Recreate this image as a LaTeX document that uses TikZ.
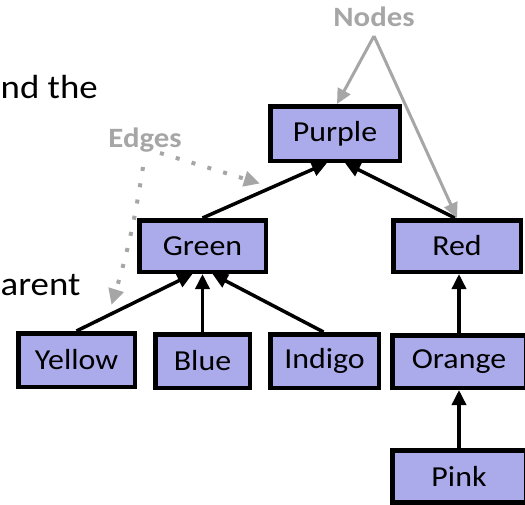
\documentclass[tikz,border=0pt]{standalone}
\usepackage{fontspec}
\setmainfont{Carlito}[FakeStretch=1.1]
\usetikzlibrary{arrows.meta}
\definecolor{boxfill}{RGB}{171,171,235}
\definecolor{annot}{RGB}{166,166,166}
\tikzset{
  treebox/.style={draw=black, line width=4.5pt, fill=boxfill, rectangle, inner sep=0pt,
    font=\fontsize{29}{34}\selectfont},
  edge/.style={line width=3.5pt, -{Triangle[length=15pt,width=14pt]}},
  pointer/.style={draw=annot, line width=3pt, -{Triangle[length=15pt,width=14pt]}},
  dotpointer/.style={draw=annot, line width=4pt, dash pattern=on 4pt off 12.5pt,
    -{Triangle[length=16pt,width=15pt]}},
  annotlabel/.style={text=annot, font=\bfseries\fontsize{28}{32}\selectfont, inner sep=0pt},
  bigtext/.style={font=\fontsize{33.5}{40}\selectfont, inner sep=0pt}
}
\begin{document}
\begin{tikzpicture}[x=1pt, y=-1pt]
\useasboundingbox (0,0) rectangle (525,504);
% background text fragments
\node[bigtext, anchor=base west] (t1) at (0.5,98) {nd the};
\node[bigtext, anchor=base west] (t2) at (0.5,295) {arent};
% tree nodes
\node[treebox, minimum width=129.5pt, minimum height=54.5pt] (purple) at (335,133.5) {Purple};
\node[treebox, minimum width=126.5pt, minimum height=51.5pt] (green) at (202.5,246) {Green};
\node[treebox, minimum width=127.5pt, minimum height=51.5pt] (red) at (457,246) {Red};
\node[treebox, minimum width=116.5pt, minimum height=53.5pt] (yellow) at (76.5,360) {Yellow};
\node[treebox, minimum width=94.5pt, minimum height=53.5pt] (blue) at (202.5,361) {Blue};
\node[treebox, minimum width=108.5pt, minimum height=53.5pt] (indigo) at (324.5,361) {Indigo};
\node[treebox, minimum width=133.5pt, minimum height=52.5pt] (orange) at (459,361.5) {Orange};
\node[treebox, minimum width=133.5pt, minimum height=52pt] (pink) at (459,476.5) {Pink};
% edges
\draw[edge] (green.north) -- ([xshift=-8pt]purple.south);
\draw[edge] ([xshift=-2pt]red.north) -- ([xshift=10pt]purple.south);
\draw[edge] (yellow.north) -- ([xshift=-10pt]green.south);
\draw[edge] (blue.north) -- (green.south);
\draw[edge] ([xshift=-1pt]indigo.north) -- ([xshift=10pt]green.south);
\draw[edge] (orange.north) -- (red.south -| orange.north);
\draw[edge] (pink.north) -- (orange.south);
% annotations
\node[annotlabel] (nodes) at (374,17) {Nodes};
\coordinate (nodesfoot) at (374,36);
\draw[pointer] (nodesfoot) -- ([xshift=2pt]purple.north);
\draw[pointer] (nodesfoot) -- (red.north);
\node[annotlabel] (edges) at (145,140) {Edges};
\coordinate (edgesA) at (160,153);
\coordinate (edgesB) at (143,167);
\coordinate (edgetipA) at (260,183.5);
\coordinate (edgetipB) at (111.5,305);
\draw[dotpointer] (edgesA) -- (edgetipA);
\draw[dotpointer] (edgesB) to[bend left=4] (edgetipB);
\end{tikzpicture}
\end{document}
